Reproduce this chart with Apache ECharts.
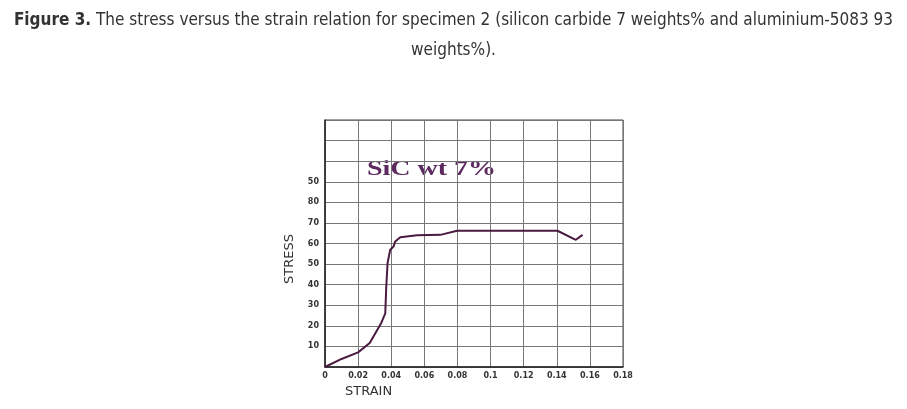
<!DOCTYPE html>
<html>
<head>
<meta charset="utf-8">
<script src="https://cdn.jsdelivr.net/npm/echarts@6/dist/echarts.min.js"></script>
<style>
  html, body { margin: 0; padding: 0; background: #fff; }
  #chart { width: 907px; height: 409px; }
</style>
</head>
<body>
<div id="chart"></div>
<script>
// strain / stress
const strain = [0, 0.010, 0.020, 0.027, 0.034, 0.0364, 0.037, 0.0378, 0.0394, 0.0414, 0.0424, 0.0455, 0.0556, 0.0697, 0.0798, 0.1404, 0.1515, 0.1556];
const stress = [0, 3.9, 7.1, 11.7, 21.4, 26, 39, 50.5, 57, 58.5, 61, 63, 64, 64.2, 66.2, 66.2, 61.8, 64.2];
// tick labels as printed on the original (top one reads "50")
const stressTicks = ['', '10', '20', '30', '40', '50', '60', '70', '80', '50', '', '', ''];

const chartDom = document.getElementById('chart');
const myChart = echarts.init(chartDom);

const titleFont = "'DejaVu Sans Condensed', 'Liberation Sans', sans-serif";

const option = {
  animation: false,
  title: {
    left: 'center',
    top: 1,
    text: '{b|Figure 3.} The stress versus the strain relation for specimen 2 (silicon carbide 7 weights% and aluminium-5083 93\nweights%).',
    textStyle: {
      fontFamily: titleFont,
      fontSize: 17,
      fontWeight: 'normal',
      color: '#333',
      lineHeight: 30,
      align: 'center',
      rich: {
        b: { fontFamily: titleFont, fontSize: 17, fontWeight: 'bold', color: '#333', lineHeight: 30 }
      }
    }
  },
  grid: {
    left: 325,
    right: 284,
    top: 120,
    bottom: 42,
    show: true,
    borderColor: '#444',
    borderWidth: 1
  },
  xAxis: {
    type: 'value',
    min: 0,
    max: 0.18,
    interval: 0.02,
    axisLine: { lineStyle: { color: '#222', width: 1.5 } },
    axisTick: { show: false },
    splitLine: { lineStyle: { color: '#777', width: 1 } },
    axisLabel: {
      fontSize: 8,
      fontWeight: 'bold',
      fontFamily: 'DejaVu Sans',
      color: '#333',
      margin: 5,
      formatter: function (v) { return String(+v.toFixed(2)); }
    }
  },
  yAxis: {
    type: 'value',
    min: 0,
    max: 120,
    interval: 10,
    axisLine: { show: true, lineStyle: { color: '#222', width: 1.5 } },
    axisTick: { show: false },
    splitLine: { lineStyle: { color: '#777', width: 1 } },
    axisLabel: {
      fontSize: 8,
      fontWeight: 'bold',
      fontFamily: 'DejaVu Sans',
      color: '#333',
      margin: 6,
      formatter: function (v) { return stressTicks[Math.round(v / 10)]; }
    }
  },
  graphic: [
    {
      type: 'text',
      left: 345,
      top: 385,
      style: { text: 'STRAIN', fontSize: 13, fill: '#333', fontFamily: 'DejaVu Sans' }
    },
    {
      type: 'text',
      x: 283,
      y: 284,
      rotation: Math.PI / 2,
      style: { text: 'STRESS', fontSize: 13, fill: '#333', fontFamily: 'DejaVu Sans' }
    },
    {
      type: 'text',
      x: 367,
      y: 160,
      scaleX: 1.4,
      style: { text: 'SiC wt 7%', fontSize: 20, fontWeight: 'bold', fill: '#5c2a5e', fontFamily: 'Liberation Serif' }
    }
  ],
  series: [
    {
      type: 'line',
      data: strain.map((s, i) => [s, stress[i]]),
      showSymbol: false,
      lineStyle: { color: '#4a1a40', width: 2 }
    }
  ]
};

option && myChart.setOption(option);
window.addEventListener('resize', function () {
  myChart.resize();
});
</script>
</body>
</html>
